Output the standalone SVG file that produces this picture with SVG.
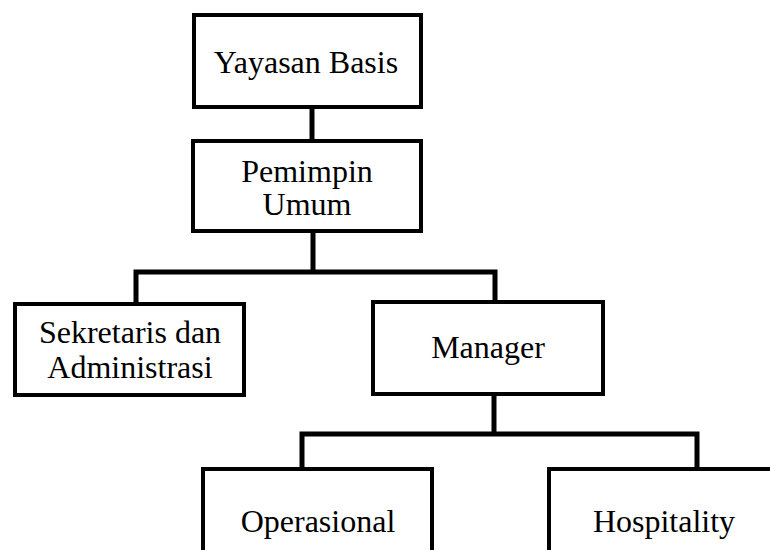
<svg xmlns="http://www.w3.org/2000/svg" width="770" height="550" viewBox="0 0 770 550">
<style>
.box{fill:#fff;stroke:#000;stroke-width:4}
.lbl{font-family:"Liberation Serif","Times New Roman",serif;font-size:32px;fill:#000;text-anchor:middle}
.con{fill:none;stroke:#000;stroke-width:5;stroke-linecap:square}
</style>
<rect width="770" height="550" fill="#fff"/>
<g id="connectors">
<path class="con" d="M312,108 V140"/>
<path class="con" d="M313,232 V272 M136,272 H495 M136,272 V303 M495,272 V301"/>
<path class="con" d="M494,396 V434 M302,434 H697 M302,434 V468 M697,434 V468"/>
</g>
<g id="yayasan"><rect class="box" x="194" y="15" width="227" height="92"/><text class="lbl" x="306" y="73">Yayasan Basis</text></g>
<g id="pemimpin"><rect class="box" x="193" y="141" width="228" height="90"/><text class="lbl" x="307" y="182">Pemimpin</text><text class="lbl" x="307" y="215">Umum</text></g>
<g id="sekretaris"><rect class="box" x="15" y="304" width="229" height="91"/><text class="lbl" x="130" y="343">Sekretaris dan</text><text class="lbl" x="130" y="378">Administrasi</text></g>
<g id="manager"><rect class="box" x="373" y="302" width="230" height="92"/><text class="lbl" x="488" y="358">Manager</text></g>
<g id="operasional"><rect class="box" x="203" y="469" width="229" height="100"/><text class="lbl" x="318" y="532">Operasional</text></g>
<g id="hospitality"><rect class="box" x="549" y="469" width="229" height="100"/><text class="lbl" x="664" y="532">Hospitality</text></g>
</svg>
